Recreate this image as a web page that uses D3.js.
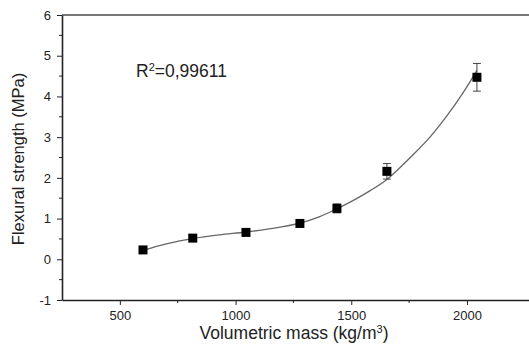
<!DOCTYPE html>
<html>
<head>
<meta charset="utf-8">
<script src="https://cdn.jsdelivr.net/npm/d3@7"></script>
<style>
  body { margin: 0; background: #fff; }
  text { font-family: "Liberation Sans", Arial, sans-serif; fill: #222; }
</style>
</head>
<body>
<div id="chart"></div>
<script>
// measured points
var density = [600, 815, 1045, 1278, 1438, 1654, 2043];
var strength = [0.23, 0.52, 0.66, 0.88, 1.25, 2.16, 4.47];
var errBar = [0.02, 0.03, 0.03, 0.04, 0.11, 0.19, 0.34];

// fitted curve
var fitX = [600, 700, 815, 930, 1045, 1160, 1278, 1364, 1438, 1507, 1580, 1654, 1766, 1840, 1913, 1982, 2043];
var fitY = [0.22, 0.38, 0.51, 0.60, 0.67, 0.76, 0.89, 1.05, 1.24, 1.44, 1.68, 1.96, 2.56, 3.0, 3.52, 4.08, 4.64];

var xTicks = [500, 1000, 1500, 2000];
var xMinor = [750, 1250, 1750];
var yTicks = [-1, 0, 1, 2, 3, 4, 5, 6];
var yMinor = [-0.5, 0.5, 1.5, 2.5, 3.5, 4.5, 5.5];

var W = 529, H = 347;
var mLeft = 62, mTop = 15, mBottom = 300;

var svg = d3.select("#chart").append("svg")
    .attr("width", W)
    .attr("height", H);

var x = d3.scaleLinear().domain([250, 2268]).range([mLeft, W]);
var y = d3.scaleLinear().domain([-1, 6]).range([mBottom, mTop]);

// top frame line
svg.append("line")
    .attr("x1", mLeft).attr("x2", W)
    .attr("y1", mTop).attr("y2", mTop)
    .attr("stroke", "#777").attr("stroke-width", 2);

// x axis
var gx = svg.append("g").attr("transform", "translate(0," + mBottom + ")");
gx.call(d3.axisBottom(x).tickValues(xTicks).tickFormat(d => String(d))
    .tickSize(5).tickPadding(6).tickSizeOuter(0));
gx.append("g").selectAll("line")
    .data(xMinor)
    .enter().append("line")
    .attr("x1", d => x(d)).attr("x2", d => x(d))
    .attr("y1", 0).attr("y2", 3)
    .attr("stroke", "#222");

// y axis
var gy = svg.append("g").attr("transform", "translate(" + mLeft + ",0)");
gy.call(d3.axisLeft(y).tickValues(yTicks).tickFormat(d => String(d))
    .tickSize(5).tickPadding(6).tickSizeOuter(0));
gy.append("g").selectAll("line")
    .data(yMinor)
    .enter().append("line")
    .attr("x1", 0).attr("x2", -3)
    .attr("y1", d => y(d)).attr("y2", d => y(d))
    .attr("stroke", "#222");

svg.selectAll(".domain").attr("stroke", "#222").attr("stroke-width", 1.6);
svg.selectAll(".tick line").attr("stroke", "#222");
svg.selectAll(".tick text")
    .attr("font-size", 13)
    .style("font-family", "Liberation Sans, Arial, sans-serif")
    .attr("fill", "#222");

// axis titles
svg.append("text")
    .attr("x", 294).attr("y", 339)
    .attr("text-anchor", "middle")
    .attr("font-size", 17.5)
    .html('Volumetric mass (kg/m<tspan baseline-shift="super" font-size="11">3</tspan>)');

svg.append("text")
    .attr("transform", "translate(24," + 159 + ") rotate(-90)")
    .attr("text-anchor", "middle")
    .attr("font-size", 16.5)
    .text("Flexural strength (MPa)");

// R2 annotation
svg.append("text")
    .attr("x", 136).attr("y", 77)
    .attr("font-size", 17.5)
    .html('R<tspan baseline-shift="super" font-size="11">2</tspan>=0,99611');

// fit curve
var fit = fitX.map(function(d, i) { return [d, fitY[i]]; });
svg.append("path")
    .datum(fit)
    .attr("fill", "none")
    .attr("stroke", "#666")
    .attr("stroke-width", 1.3)
    .attr("d", d3.line().x(d => x(d[0])).y(d => y(d[1])).curve(d3.curveCatmullRom));

// error bars
var pts = density.map(function(d, i) { return {x: d, y: strength[i], e: errBar[i]}; });
var eb = svg.append("g").attr("stroke", "#444").attr("stroke-width", 1);
pts.forEach(function(p) {
  if (p.e < 0.08) return;
  eb.append("line")
    .attr("x1", x(p.x)).attr("x2", x(p.x))
    .attr("y1", y(p.y - p.e)).attr("y2", y(p.y + p.e));
  eb.append("line")
    .attr("x1", x(p.x) - 4).attr("x2", x(p.x) + 4)
    .attr("y1", y(p.y + p.e)).attr("y2", y(p.y + p.e));
  eb.append("line")
    .attr("x1", x(p.x) - 4).attr("x2", x(p.x) + 4)
    .attr("y1", y(p.y - p.e)).attr("y2", y(p.y - p.e));
});

// markers
svg.append("g").selectAll("rect")
    .data(pts)
    .enter().append("rect")
    .attr("x", d => x(d.x) - 4.5)
    .attr("y", d => y(d.y) - 4.5)
    .attr("width", 9).attr("height", 9)
    .attr("fill", "#000");
</script>
</body>
</html>
